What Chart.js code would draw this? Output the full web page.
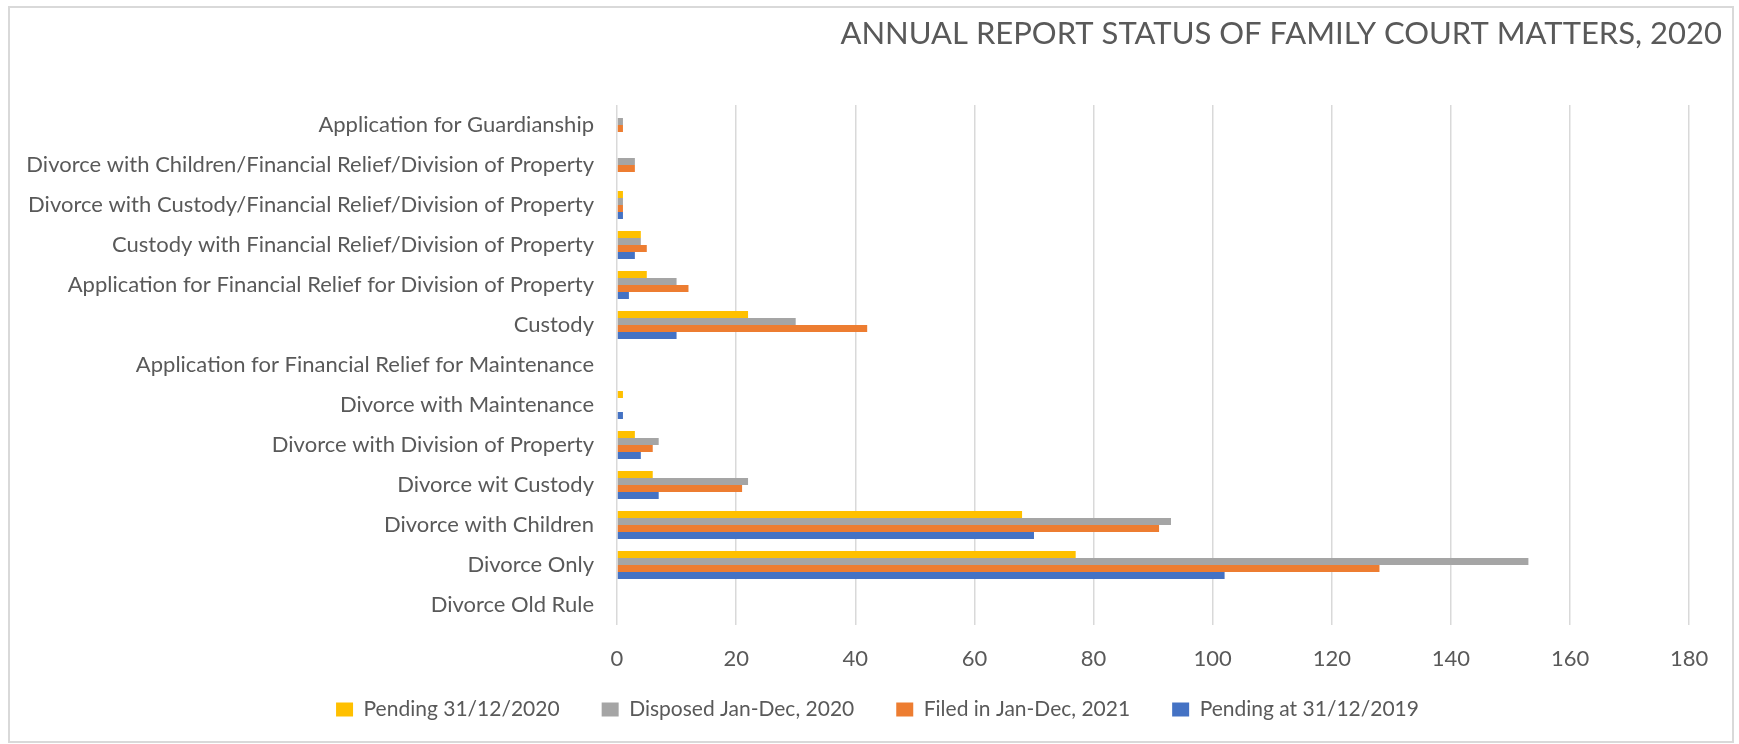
<!DOCTYPE html>
<html>
<head>
<meta charset="utf-8">
<script src="https://cdn.jsdelivr.net/npm/chart.js@4.4.1/dist/chart.umd.min.js"></script>
<style>
  html, body { margin: 0; padding: 0; background: #ffffff; }
  #frame { position: absolute; left: 8px; top: 6px; width: 1726px; height: 737px; border: 2px solid #d9d9d9; box-sizing: border-box; }
  #c { position: absolute; left: 0; top: 0; }
</style>
</head>
<body>
<div id="frame"></div>
<canvas id="c" width="1739" height="744"></canvas>
<script>
const categories = [
  "Application for Guardianship",
  "Divorce with Children/Financial Relief/Division of Property",
  "Divorce with Custody/Financial Relief/Division of Property",
  "Custody with Financial Relief/Division of Property",
  "Application for Financial Relief for Division of Property",
  "Custody",
  "Application for Financial Relief for Maintenance",
  "Divorce with Maintenance",
  "Divorce with Division of Property",
  "Divorce wit Custody",
  "Divorce with Children",
  "Divorce Only",
  "Divorce Old Rule"
];
const pending2020  = [0, 0, 1, 4, 5, 22, 0, 1, 3, 6, 68, 77, 0];
const disposed2020 = [1, 3, 1, 4, 10, 30, 0, 0, 7, 22, 93, 153, 0];
const filed2021    = [1, 3, 1, 5, 12, 42, 0, 0, 6, 21, 91, 128, 0];
const pending2019  = [0, 0, 1, 3, 2, 10, 0, 1, 4, 7, 70, 102, 0];
const seriesNames = ["Pending 31/12/2020", "Disposed Jan-Dec, 2020", "Filed in Jan-Dec, 2021", "Pending at 31/12/2019"];
const tickStep = 20;
const titleText = "ANNUAL REPORT STATUS OF FAMILY COURT MATTERS, 2020";

const colors = ["#FFC000", "#A5A5A5", "#ED7D31", "#4472C4"];
const textColor = "#595959";
const fam = "Lato, 'Open Sans', sans-serif";

const seriesData = [pending2020, disposed2020, filed2021, pending2019];

const noLabelClip = {
  id: 'noLabelClip',
  beforeDraw(chart) {
    Object.values(chart.scales).forEach(s => { s._computeLabelArea = () => undefined; });
  }
};

const legendPad = 42;
const legendFont = 21;

new Chart(document.getElementById('c'), {
  type: 'bar',
  data: {
    labels: categories,
    datasets: seriesData.map((d, i) => ({
      label: seriesNames[i],
      data: d,
      backgroundColor: colors[i],
      borderWidth: 0,
      categoryPercentage: 0.7,
      barPercentage: 1.0
    }))
  },
  plugins: [noLabelClip],
  options: {
    indexAxis: 'y',
    responsive: false,
    animation: false,
    devicePixelRatio: 1,
    layout: { padding: { left: 33, right: 17, top: 0, bottom: 14 } },
    plugins: {
      title: {
        display: true,
        text: titleText,
        align: 'end',
        color: textColor,
        font: { family: fam, size: 31, weight: '400' },
        padding: { top: 15.6, bottom: 52.2 }
      },
      legend: {
        position: 'bottom',
        align: 'center',
        labels: {
          color: textColor,
          font: { family: fam, size: legendFont },
          boxWidth: 17,
          boxHeight: 14,
          padding: legendPad
        }
      },
      tooltip: { enabled: false }
    },
    scales: {
      x: {
        min: 0,
        max: 185.5,
        grid: { color: '#d9d9d9', lineWidth: 1.5, drawTicks: false },
        border: { display: false },
        ticks: {
          stepSize: tickStep,
          includeBounds: false,
          color: textColor,
          font: { family: fam, size: 22 },
          padding: 21
        },
        afterFit: (s) => { s.height = 744 - 14 - (legendFont + legendPad + 10) - 625; }
      },
      y: {
        grid: { display: false, drawTicks: false },
        border: { display: false },
        ticks: {
          color: textColor,
          font: { family: fam, size: 22 },
          padding: 23,
          autoSkip: false
        },
        afterFit: (s) => { s.width = 584; }
      }
    }
  }
});
</script>
</body>
</html>
